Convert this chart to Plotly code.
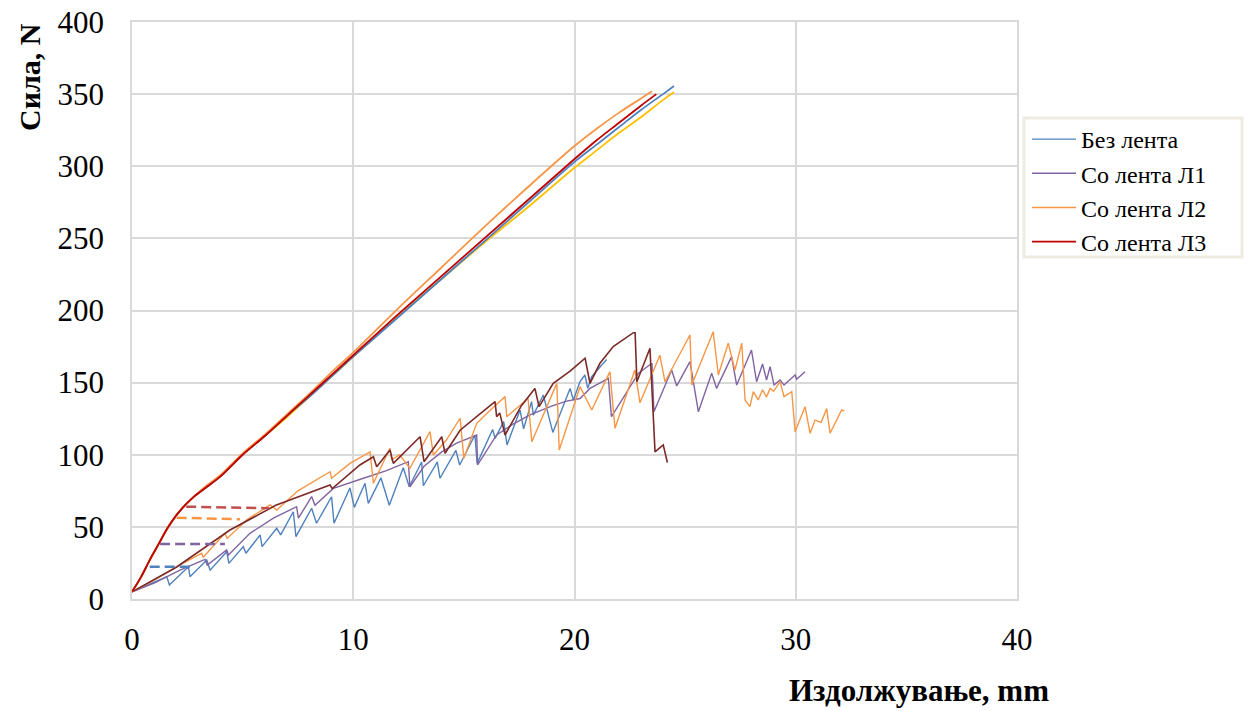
import plotly.graph_objects as go

# ---- Upper curves (force vs. elongation of the tapes) ----
up_red_x = [0, 0.4, 0.8, 1.2, 1.6, 2.0, 2.4, 2.8, 3.4, 4, 5, 6, 7, 8, 9, 10, 12, 14, 16, 18, 20, 21, 22, 23, 23.7]
up_red_y = [5, 15, 27, 38, 49, 58, 65, 71, 78, 85, 100, 113, 127, 141, 155, 169, 197, 224, 251, 278, 305, 318, 330, 342, 350]

up_orange_x = [0, 0.4, 0.8, 1.2, 1.6, 2.0, 2.4, 2.8, 3.4, 4, 5, 6, 7, 8, 9, 10, 12, 14, 16, 18, 20, 21, 22, 23, 23.5]
up_orange_y = [5, 15, 27, 38, 49, 58, 65, 71, 79, 86, 101, 114, 128, 142, 157, 171, 201, 230, 259, 287, 314, 326, 337, 347, 352]

up_blue_x = [0, 0.4, 0.8, 1.2, 1.6, 2.0, 2.4, 2.8, 3.4, 4, 5, 6, 7, 8, 9, 10, 12, 14, 16, 18, 20, 21, 22, 23, 24, 24.5]
up_blue_y = [5, 15, 27, 38, 49, 58, 65, 71, 78, 85, 100, 113, 127, 140, 154, 168, 195, 222, 249, 276, 303, 315, 327, 339, 350, 355.6]

up_yellow_x = [0, 0.4, 0.8, 1.2, 1.6, 2.0, 2.4, 2.8, 3.4, 4, 5, 6, 7, 8, 9, 10, 12, 14, 16, 18, 20, 21, 22, 23, 24, 24.5]
up_yellow_y = [5, 15, 27, 38, 49, 58, 65, 71, 78, 85, 100, 113, 126, 140, 154, 168, 196, 222, 248, 273, 299, 311, 323, 334, 346, 351.5]

# ---- Lower curves (sawtooth response) ----
bez_x = [0, 1.57, 1.69, 2.55, 2.62, 3.38, 3.53, 4.28, 4.38, 5.03, 5.15, 5.79, 5.88, 6.54, 6.72,
         7.29, 7.41, 8.12, 8.34, 9.02, 9.13, 9.85, 10.05, 10.53, 10.68, 11.25, 11.63, 12.26, 12.53,
         13.09, 13.17, 13.8, 13.92, 14.64, 14.81, 15.5, 15.6, 16.3, 16.41, 16.8, 16.95, 17.54, 17.7,
         18.06, 18.14, 18.59, 19.02, 19.8, 19.95, 20.25, 20.47, 20.6, 20.77, 21.45]
bez_y = [5, 15.5, 9.7, 22.4, 15.5, 27, 20, 32.8, 24.7, 36.3, 31.7, 44.4, 36.3, 49, 44.4,
         60.5, 43.2, 62.9, 52.5, 70.9, 52.5, 77, 63.5, 80.2, 66.3, 84, 65, 91, 77.8,
         95, 78.5, 95, 83.7, 103, 92.9, 113.7, 94, 117.5, 111.4, 123, 106.8, 131, 118,
         136.8, 127.5, 141.4, 115.5, 146, 138, 150.7, 155.3, 146, 154, 166]

l1_x = [0, 1.0, 2.17, 3.0, 3.3, 3.4, 4.28, 4.36, 5.33, 6.39, 7.44, 7.52, 8.12, 8.27, 9.1, 10.46,
        11.5, 12.49, 12.56, 13.2, 14.0, 14.67, 15.58, 15.62, 16.48, 17.2, 17.99, 18.9, 19.6, 20.25,
        20.7, 21.53, 21.67, 22.28, 22.89, 23.5, 23.59, 24.39, 24.62, 25.22, 25.6, 26.2, 26.42, 27.1,
        27.33, 28.0, 28.23, 28.5, 28.68, 28.84, 29.02, 29.29, 29.47, 29.97, 30.04, 30.42]
l1_y = [5, 11, 20.1, 25.5, 27.5, 23.5, 34, 30.5, 45.5, 56, 64, 56, 71, 65, 76.7, 83.7,
        89, 95.2, 77.8, 92, 102, 108, 113.7, 92.9, 113.7, 121, 127.6, 133.3, 137, 139,
        146, 153, 126.4, 141.4, 156.5, 163.4, 129.8, 158.7, 147.7, 164.5, 129.8, 156.5, 146, 168,
        148.3, 172.6, 150.6, 162.9, 151.8, 161, 148.3, 151.8, 148.3, 155.3, 152.3, 157.6]

l2_x = [0, 1.0, 2.17, 3.15, 3.22, 4.2, 4.3, 5.2, 6.24, 6.54, 7.5, 8.95, 9.02, 9.85, 10.76, 10.91,
        11.66, 11.74, 12.1, 12.56, 13.47, 13.62, 14.2, 14.83, 15.0, 15.58, 16.2, 16.86, 16.94, 17.9,
        18.07, 19.2, 19.31, 20.25, 20.78, 21.6, 21.83, 22.73, 22.96, 23.86, 24.09, 25.22, 25.3, 26.27,
        26.5, 26.95, 27.25, 27.56, 27.71, 27.93, 28.08, 28.3, 28.5, 28.68, 28.84, 29.0, 29.29, 29.47,
        29.82, 29.97, 30.42, 30.65, 30.87, 31.15, 31.4, 31.55, 31.85, 32.07, 32.2]
l2_y = [5, 13, 23.6, 31.7, 29, 45.5, 42, 55, 65.2, 61.7, 75, 88.2, 83.7, 94, 102, 80.2,
        104.5, 96.4, 100, 90.6, 116, 99.8, 110, 125.3, 97.5, 121.8, 131, 140.3, 126.4, 139,
        109, 149.5, 103.3, 147.2, 131, 157.6, 118.3, 158.7, 136, 169, 150.6, 183, 148.3, 185.3,
        155.3, 177.3, 158.7, 177.3, 138, 133.3, 143.7, 138, 145, 140, 146, 144, 150.7, 140.3,
        143.7, 116, 133.3, 114.9, 124, 122.5, 132, 114.9, 124, 131, 130.5]

l3_x = [0, 2.0, 4.43, 6.5, 8.95, 9.05, 10.3, 10.91, 11.06, 11.66, 11.81, 13.02, 13.2, 14.0, 14.15,
        14.83, 15.7, 16.41, 16.48, 16.62, 16.86, 17.6, 18.21, 18.4, 19.04, 19.8, 20.48, 20.7, 21.15,
        21.75, 22.66, 22.74, 22.82, 23.41, 23.64, 24.01, 24.2]
l3_y = [5, 22, 47.8, 65, 79, 76.5, 92.9, 98.6, 91.7, 103.3, 94, 112.5, 95.2, 112.5, 101,
        117, 128, 136.8, 126.4, 129, 113.7, 134, 146, 133.3, 149.5, 158, 166.9, 149.5, 163.4,
        175, 184.6, 184.6, 150.6, 173.8, 102, 106.8, 94.5]

# ---- Dashed reference levels ----
dash_blue_x, dash_blue_y = [0.8, 2.7], [22.4, 22.4]
dash_purple_x, dash_purple_y = [1.27, 4.2], [38.1, 38.1]
dash_orange_x, dash_orange_y = [2.02, 4.88], [56.4, 55.3]
dash_red_x, dash_red_y = [2.45, 6.2], [64.0, 62.9]

x_ticks = [0, 10, 20, 30, 40]
y_ticks = [0, 50, 100, 150, 200, 250, 300, 350, 400]

legend_names = ["Без лента", "Со лента Л1", "Со лента Л2", "Со лента Л3"]

C_BLUE = "#4F81BD"
C_PURPLE = "#8064A2"
C_ORANGE = "#F79646"
C_RED = "#C00000"
C_YELLOW = "#FFC000"
C_BROWN = "#7B2A28"
C_DRED = "#C0504D"

fig = go.Figure()

def line(x, y, color, width, name=None, rank=None, dash=None, shape="linear"):
    fig.add_trace(go.Scatter(
        x=x, y=y, mode="lines",
        line=dict(color=color, width=width, dash=dash, shape=shape,
                  smoothing=0.8 if shape == "spline" else None),
        name=name if name else "",
        showlegend=name is not None,
        legendrank=rank if rank else 1000,
        hoverinfo="skip",
    ))

# lower sawtooth curves
line(bez_x, bez_y, C_BLUE, 1.4, legend_names[0], 1)
line(l1_x, l1_y, C_PURPLE, 1.4, legend_names[1], 2)
line(l2_x, l2_y, C_ORANGE, 1.4, legend_names[2], 3)
line(l3_x, l3_y, C_BROWN, 1.6)

# upper curves
line(up_yellow_x, up_yellow_y, C_YELLOW, 1.8, shape="spline")
line(up_blue_x, up_blue_y, C_BLUE, 1.8, shape="spline")
line(up_orange_x, up_orange_y, C_ORANGE, 1.8, shape="spline")
line(up_red_x, up_red_y, C_RED, 1.8, legend_names[3], 4, shape="spline")

# dashed levels
line(dash_blue_x, dash_blue_y, C_BLUE, 2.5, dash="10px,5px")
line(dash_purple_x, dash_purple_y, C_PURPLE, 2.5, dash="10px,5px")
line(dash_orange_x, dash_orange_y, C_ORANGE, 2.5, dash="10px,5px")
line(dash_red_x, dash_red_y, C_DRED, 2.5, dash="10px,5px")

FONT = "Liberation Serif, Times New Roman, serif"
GRID = "#D9D9D9"

axis_common = dict(
    showgrid=True, gridcolor=GRID, gridwidth=1.5,
    showline=True, linecolor=GRID, linewidth=1.5, mirror=True,
    zeroline=False, ticks="", automargin=False,
    tickfont=dict(size=31, family=FONT),
)

# legend frame (paper coordinates, right of the plot area)
PLOT_L, PLOT_W, PLOT_B, PLOT_H = 132, 885, 599, 577
def px_to_paper_x(px):
    return (px - PLOT_L) / PLOT_W
def px_to_paper_y(py):
    return (PLOT_B - py) / PLOT_H

fig.add_shape(
    type="rect", xref="paper", yref="paper",
    x0=px_to_paper_x(1024), x1=px_to_paper_x(1242),
    y0=px_to_paper_y(257), y1=px_to_paper_y(118),
    line=dict(color="#EEECE1", width=3), fillcolor="white", layer="above",
)

fig.update_layout(
    width=1251, height=711,
    margin=dict(l=132, r=234, t=22, b=112),
    paper_bgcolor="white", plot_bgcolor="white",
    font=dict(family=FONT, color="black", size=28),
    xaxis=dict(range=[0, 40], tickvals=x_ticks, ticktext=[str(v) for v in x_ticks],
               ticklabelstandoff=12, **axis_common),
    yaxis=dict(range=[0, 400], tickvals=y_ticks, ticktext=[str(v) for v in y_ticks],
               ticklabelstandoff=20, **axis_common),
    legend=dict(
        x=px_to_paper_x(1027), y=px_to_paper_y(117), xanchor="left", yanchor="top",
        bgcolor="rgba(0,0,0,0)", borderwidth=0,
        font=dict(size=24, family=FONT), itemwidth=44,
        tracegroupgap=0,
    ),
    annotations=[
        dict(text="<b>Сила, N</b>", textangle=-90, xref="paper", yref="paper",
             x=-0.115, y=0.905, xanchor="center", yanchor="middle", showarrow=False,
             font=dict(size=30, family=FONT)),
        dict(text="<b>Издолжување, mm</b>", xref="paper", yref="paper",
             x=0.889, y=-0.158, xanchor="center", yanchor="middle", showarrow=False,
             font=dict(size=31, family=FONT)),
    ],
)

fig.write_html("out.html")
